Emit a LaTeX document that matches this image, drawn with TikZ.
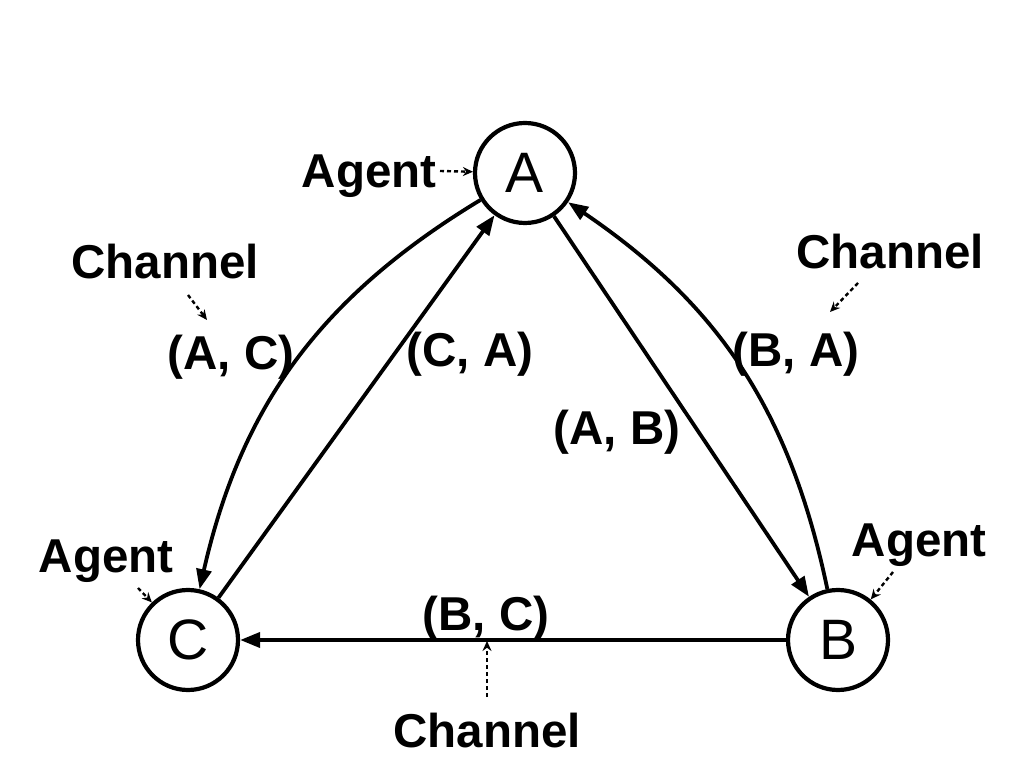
\documentclass[tikz,border=0pt]{standalone}
\usepackage{fontspec}
\setmainfont{Liberation Sans}
\usetikzlibrary{arrows.meta}
\begin{document}
\begin{tikzpicture}[x=1pt,y=1pt,
  agentnode/.style={circle,draw,line width=4.2pt,minimum size=100pt,inner sep=0pt,
     font=\fontsize{57}{60}\selectfont},
  lbl/.style={anchor=base,inner sep=0pt,font=\bfseries\fontsize{47.5}{50}\selectfont},
  edge/.style={line width=3.8pt,-{Triangle[length=20pt,width=15pt]}},
  pointer/.style={line width=2.4pt,dash pattern=on 4pt off 3pt,-{Stealth[length=10pt,width=9pt]}}]
\useasboundingbox (0,0) rectangle (1024,768);
% agents
\node[agentnode] (A) at (525,595) {A};
\node[agentnode] (B) at (838,128) {B};
\node[agentnode] (C) at (188,128) {C};
% channels
\draw[edge] (A) to[bend right=23] (C);
\draw[edge] (C) -- (A);
\draw[edge] (A) -- (B);
\draw[edge] (B) to[bend right=22] (A);
\draw[edge] (B) -- (C);
% channel labels
\node[lbl] (lac) at (231,398) {(A, C)};
\node[lbl] (lca) at (470,401) {(C, A)};
\node[lbl] (lab) at (617,323) {(A, B)};
\node[lbl] (lba) at (796,401) {(B, A)};
\node[lbl] (lbc) at (486,138) {(B, C)};
% annotations
\node[lbl] (agA) at (369,580) {Agent};
\node[lbl] (agC) at (106,195) {Agent};
\node[lbl] (agB) at (919,211) {Agent};
\node[lbl] (chL) at (165,489) {Channel};
\node[lbl] (chR) at (890,499) {Channel};
\node[lbl] (chB) at (487,21) {Channel};
% pointer arrows
\coordinate (pA) at (440,597);
\coordinate (pC) at (138,180);
\coordinate (pB) at (893,196);
\coordinate (pL0) at (188,473);
\coordinate (pL1) at (207,448);
\coordinate (pR0) at (858,485);
\coordinate (pR1) at (830,456);
\coordinate (pM0) at (487,71);
\coordinate (pM1) at (487,127);
\draw[pointer] (pA) -- (A);
\draw[pointer] (pC) -- (C);
\draw[pointer] (pB) -- (B);
\draw[pointer] (pL0) -- (pL1);
\draw[pointer] (pR0) -- (pR1);
\draw[pointer] (pM0) -- (pM1);
\end{tikzpicture}
\end{document}
